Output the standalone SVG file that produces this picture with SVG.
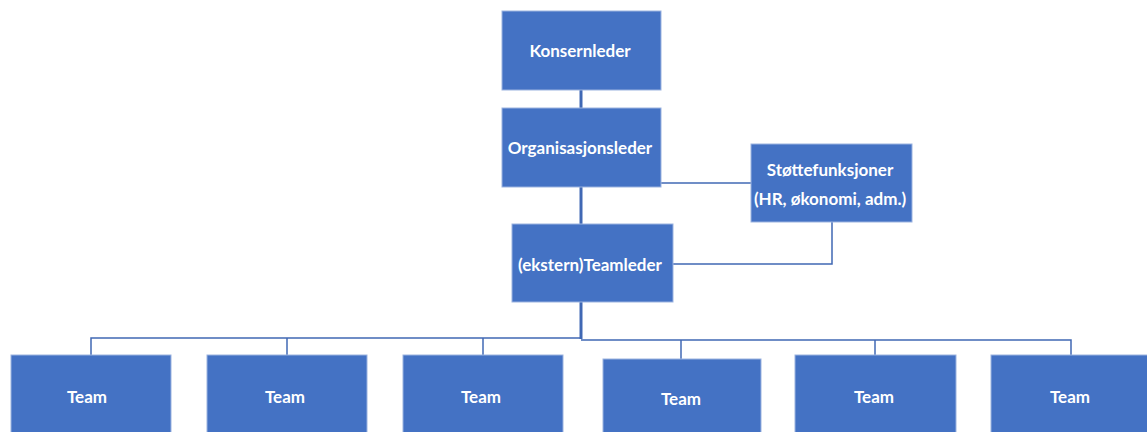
<svg xmlns="http://www.w3.org/2000/svg" width="1147" height="432" viewBox="0 0 1147 432">
<style>
.box{fill:#4472C4;stroke:#9bb3e0;stroke-width:1}
.t{font-family:Lato,"Liberation Sans",sans-serif;font-weight:bold;font-size:17px;fill:#ffffff;text-anchor:middle;dominant-baseline:central}
.c{fill:none;stroke:#4068b4;stroke-width:1.5}
.ct{fill:none;stroke:#4068b4;stroke-width:3}
</style>
<rect width="1147" height="432" fill="#ffffff"/>
<g id="connectors">
<path class="ct" d="M581 90V108"/>
<path class="ct" d="M581 187V224"/>
<path class="ct" d="M581 302V339"/>
<path class="c" d="M661 183H751"/>
<path class="c" d="M832 222V264H673"/>
<path class="c" d="M91 355V338H581"/>
<path class="c" d="M287 338V355"/>
<path class="c" d="M483 338V355"/>
<path class="c" d="M581 340H1071V355"/>
<path class="c" d="M681 340V359"/>
<path class="c" d="M875 340V355"/>
</g>
<g id="konsernleder"><rect class="box" x="502" y="11" width="159" height="79"/><text class="t" x="580" y="50">Konsernleder</text></g>
<g id="organisasjonsleder"><rect class="box" x="502" y="108" width="159" height="79"/><text class="t" x="580" y="147">Organisasjonsleder</text></g>
<g id="stottefunksjoner"><rect class="box" x="751" y="144" width="161" height="78"/><text class="t" x="830" y="169">Støttefunksjoner</text><text class="t" x="830" y="198">(HR, økonomi, adm.)</text></g>
<g id="teamleder"><rect class="box" x="512" y="224" width="161" height="78"/><text class="t" x="590" y="264">(ekstern)Teamleder</text></g>
<g id="team1"><rect class="box" x="11" y="355" width="160" height="90"/><text class="t" x="87" y="396">Team</text></g>
<g id="team2"><rect class="box" x="207" y="355" width="160" height="90"/><text class="t" x="285" y="396">Team</text></g>
<g id="team3"><rect class="box" x="403" y="355" width="160" height="90"/><text class="t" x="481" y="396">Team</text></g>
<g id="team4"><rect class="box" x="603" y="359" width="158" height="90"/><text class="t" x="681" y="398">Team</text></g>
<g id="team5"><rect class="box" x="795" y="355" width="161" height="90"/><text class="t" x="874" y="396">Team</text></g>
<g id="team6"><rect class="box" x="991" y="355" width="161" height="90"/><text class="t" x="1070" y="396">Team</text></g>
</svg>
